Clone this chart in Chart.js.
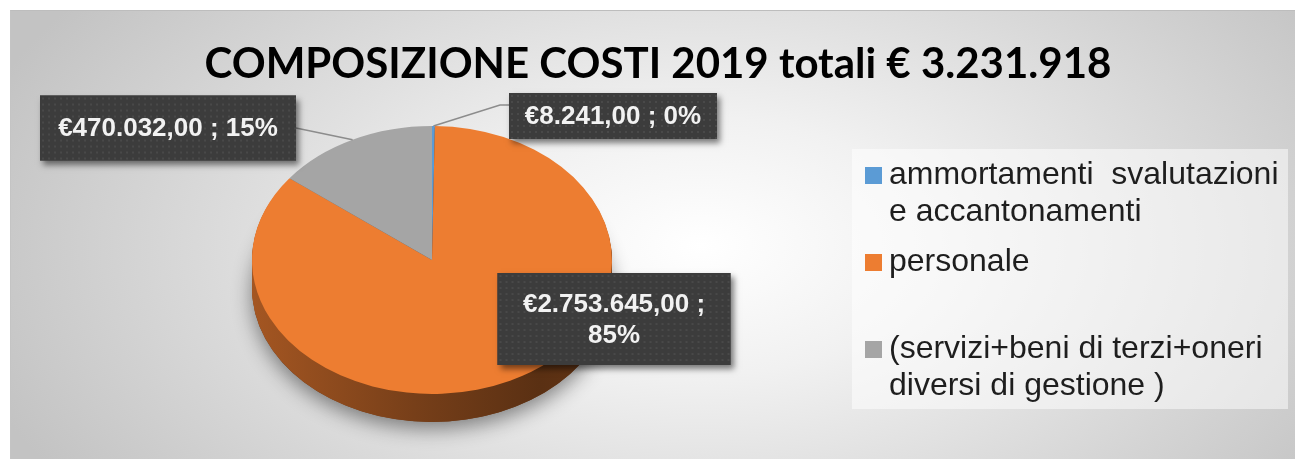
<!DOCTYPE html>
<html lang="it">
<head>
    <meta charset="UTF-8">
    <title>Composizione costi 2019</title>
    <script src="https://cdn.jsdelivr.net/npm/chart.js"></script>
    <style>
        body {
            margin: 0;
            background: #ffffff;
            width: 1295px;
            height: 459px;
            overflow: hidden;
            position: relative;
            font-family: "Liberation Sans", Arial, sans-serif;
        }

        .chart-bg {
            position: absolute;
            left: 10px;
            top: 10px;
            width: 1285px;
            height: 449px;
            box-sizing: border-box;
            border-top: 1px solid #bdbdbd;
            border-left: 1px solid #c4c4c4;
            background: radial-gradient(ellipse 760px 430px at 690px 235px, #ffffff 0%, #f1f1f1 30%, #c3c3c3 100%);
        }

        #costChart {
            position: absolute;
            left: 0;
            top: 0;
        }

        .chart-title {
            position: absolute;
            left: 0;
            top: 37px;
            width: 1316px;
            text-align: center;
            font-family: Lato, "Open Sans", sans-serif;
            font-weight: bold;
            font-size: 42px;
            line-height: 50px;
            color: #000000;
            white-space: nowrap;
        }

        .legend-box {
            position: absolute;
            left: 852px;
            top: 149px;
            width: 436px;
            height: 260px;
            box-sizing: border-box;
            padding: 6px 0 0 13px;
            background: rgba(255, 255, 255, 0.5);
        }

        .legend-item {
            display: flex;
            height: 87px;
        }

        .legend-swatch {
            width: 17px;
            height: 17px;
            margin-top: 12px;
            margin-right: 7px;
            flex: none;
        }

        .legend-text {
            width: 396px;
            font-size: 32px;
            line-height: 37px;
            color: #1e1e1e;
            white-space: pre-wrap;
        }
    </style>
</head>
<body>
    <div class="chart-bg"></div>
    <canvas id="costChart" width="1295" height="459"></canvas>
    <div class="chart-title" id="chartTitle"></div>
    <div class="legend-box" id="legendBox"></div>

    <script>
        // dati
        const chartTitle = 'COMPOSIZIONE COSTI 2019 totali € 3.231.918';
        const categories = [
            'ammortamenti  svalutazioni e accantonamenti',
            'personale',
            '(servizi+beni di terzi+oneri diversi di gestione )'
        ];
        const costs = [8241, 2753645, 470032];
        const sliceColors = ['#5B9BD5', '#ED7D31', '#A5A5A5'];

        // aspetto 3D e posizione delle etichette (solo stile)
        const tilt = 0.744;
        const depth = 28;
        const labelBoxes = [
            { dx: 181, dy: -144, w: 208, h: 46, leader: 'elbow' },
            { dx: 182, dy: 59, w: 233, h: 92, leader: null },
            { dx: -264, dy: -132, w: 256, h: 65, leader: 'straight' }
        ];

        function euro(v) {
            const [i, d] = v.toFixed(2).split('.');
            return '€' + i.replace(/\B(?=(\d{3})+(?!\d))/g, '.') + ',' + d;
        }

        function shade(hex, f) {
            const n = parseInt(hex.slice(1), 16);
            const r = Math.round(((n >> 16) & 255) * f);
            const g = Math.round(((n >> 8) & 255) * f);
            const b = Math.round((n & 255) * f);
            return 'rgb(' + r + ',' + g + ',' + b + ')';
        }

        // titolo e legenda
        document.getElementById('chartTitle').textContent = chartTitle;
        const legendBox = document.getElementById('legendBox');
        categories.forEach((name, i) => {
            const item = document.createElement('div');
            item.className = 'legend-item';
            const sw = document.createElement('div');
            sw.className = 'legend-swatch';
            sw.style.background = sliceColors[i];
            const txt = document.createElement('div');
            txt.className = 'legend-text';
            txt.textContent = name;
            item.appendChild(sw);
            item.appendChild(txt);
            legendBox.appendChild(item);
        });

        // torta schiacciata con il bordo laterale
        const pie3d = {
            id: 'pie3d',
            beforeDatasetsDraw(chart) {
                const ctx = chart.ctx;
                const arcs = chart.getDatasetMeta(0).data;
                const { x: cx, y: cy, outerRadius: r } = arcs[0];
                ctx.save();
                ctx.translate(cx, cy);
                ctx.scale(1, tilt);
                ctx.translate(-cx, -cy);

                // ombra
                ctx.save();
                ctx.shadowColor = 'rgba(0,0,0,0.45)';
                ctx.shadowBlur = 20;
                ctx.shadowOffsetY = 7;
                ctx.beginPath();
                ctx.arc(cx, cy + depth / tilt, r, 0, Math.PI * 2);
                ctx.fillStyle = '#6b3512';
                ctx.fill();
                ctx.restore();

                const grads = sliceColors.map(c => {
                    const g = ctx.createLinearGradient(cx - r, 0, cx + r, 0);
                    g.addColorStop(0, shade(c, 0.69));
                    g.addColorStop(0.45, shade(c, 0.5));
                    g.addColorStop(0.8, shade(c, 0.38));
                    g.addColorStop(1, shade(c, 0.42));
                    return g;
                });

                for (let d = depth; d >= 1; d--) {
                    const y = cy + d / tilt;
                    arcs.forEach((a, i) => {
                        ctx.beginPath();
                        ctx.moveTo(cx, y);
                        ctx.arc(cx, y, r, a.startAngle, a.endAngle);
                        ctx.closePath();
                        ctx.fillStyle = grads[i];
                        ctx.fill();
                    });
                }
            },
            afterDatasetsDraw(chart) {
                chart.ctx.restore();
            }
        };

        // etichette con riquadro scuro
        const dotCanvas = document.createElement('canvas');
        dotCanvas.width = 6;
        dotCanvas.height = 6;
        const dc = dotCanvas.getContext('2d');
        dc.fillStyle = '#3c3c3c';
        dc.fillRect(0, 0, 6, 6);
        dc.fillStyle = '#494949';
        dc.fillRect(2, 2, 2, 2);

        const costLabels = {
            id: 'costLabels',
            afterDatasetsDraw(chart) {
                const ctx = chart.ctx;
                const arcs = chart.getDatasetMeta(0).data;
                const { x: cx, y: cy, outerRadius: r } = arcs[0];
                const total = costs.reduce((s, v) => s + v, 0);
                ctx.save();
                ctx.font = 'bold 26px "Liberation Sans", Arial, sans-serif';

                arcs.forEach((a, i) => {
                    const L = labelBoxes[i];
                    const bx = cx + L.dx - L.w / 2;
                    const by = cy + L.dy - L.h / 2;
                    const mid = (a.startAngle + a.endAngle) / 2;
                    const px = cx + r * Math.cos(mid);
                    const py = cy + r * Math.sin(mid) * tilt;

                    // linea guida
                    if (L.leader) {
                        ctx.beginPath();
                        ctx.strokeStyle = '#8c8c8c';
                        ctx.lineWidth = 1.5;
                        if (L.leader === 'elbow') {
                            ctx.moveTo(px, py);
                            ctx.lineTo(bx - 9, by + 12);
                            ctx.lineTo(bx, by + 12);
                        } else {
                            ctx.moveTo(bx + L.w, by + L.h / 2);
                            ctx.lineTo(px, py);
                        }
                        ctx.stroke();
                    }

                    // riquadro
                    ctx.save();
                    ctx.shadowColor = 'rgba(0,0,0,0.5)';
                    ctx.shadowBlur = 6;
                    ctx.shadowOffsetX = 3;
                    ctx.shadowOffsetY = 4;
                    ctx.fillStyle = '#3c3c3c';
                    ctx.fillRect(bx, by, L.w, L.h);
                    ctx.restore();
                    ctx.save();
                    ctx.translate(bx, by);
                    ctx.fillStyle = ctx.createPattern(dotCanvas, 'repeat');
                    ctx.fillRect(0, 0, L.w, L.h);
                    ctx.restore();

                    // testo
                    const pct = Math.round(costs[i] / total * 100) + '%';
                    let lines = [euro(costs[i]) + ' ; ' + pct];
                    if (ctx.measureText(lines[0]).width > L.w - 20) {
                        lines = [euro(costs[i]) + ' ;', pct];
                    }
                    ctx.fillStyle = '#f2f2f2';
                    ctx.textAlign = 'center';
                    ctx.textBaseline = 'middle';
                    const lh = 31;
                    lines.forEach((t, k) => {
                        ctx.fillText(t, bx + L.w / 2, by + L.h / 2 + (k - (lines.length - 1) / 2) * lh + 1);
                    });
                });
                ctx.restore();
            }
        };

        new Chart(document.getElementById('costChart'), {
            type: 'pie',
            data: {
                labels: categories,
                datasets: [{
                    data: costs,
                    backgroundColor: sliceColors,
                    borderWidth: 0,
                    radius: 180,
                    clip: false
                }]
            },
            options: {
                responsive: false,
                animation: false,
                events: [],
                layout: { padding: { left: 0, right: 431, top: 61, bottom: 0 } },
                plugins: {
                    legend: { display: false },
                    tooltip: { enabled: false },
                    title: { display: false }
                }
            },
            plugins: [pie3d, costLabels]
        });
    </script>
</body>
</html>
